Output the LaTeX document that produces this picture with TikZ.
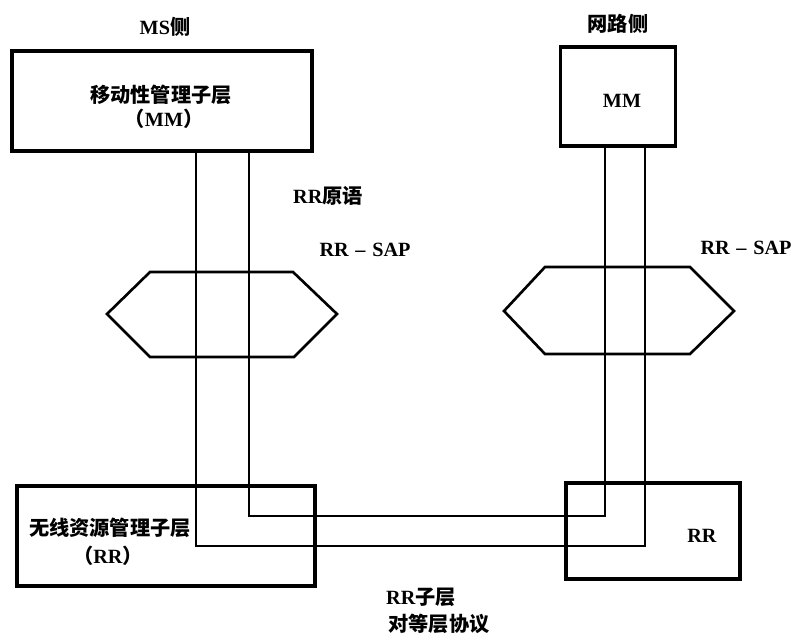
\documentclass[tikz,border=0pt]{standalone}
\usepackage{fontspec}
\setmainfont{Liberation Serif}
\newfontfamily\cjk{Noto Sans CJK SC}
\newcommand{\zh}[1]{{\cjk #1}}

\begin{document}
\begin{tikzpicture}[x=0.02cm,y=-0.02cm,line join=miter,
    box/.style={draw,line width=1.8pt,inner sep=0pt},
    link/.style={line width=1pt},
    sap/.style={line width=1.5pt},
    lbl/.style={font=\bfseries\fontsize{11.5}{13}\selectfont,inner sep=0pt}]
  \useasboundingbox (0,0) rectangle (796,637);
  % layer boxes
  \node[box,minimum width=6cm,minimum height=2cm] (msmm) at (162,101) {};
  \node[box,minimum width=2.3cm,minimum height=1.98cm] (netmm) at (618,96.5) {};
  \node[box,minimum width=5.96cm,minimum height=2cm] (msrr) at (166,536) {};
  \node[box,minimum width=3.48cm,minimum height=1.92cm] (netrr) at (653,531) {};
  % service access points
  \draw[sap] (107,314) -- (150,272) -- (293,272) -- (337,314) -- (294,357) -- (150,357) -- cycle;
  \draw[sap] (504,311) -- (545,267) -- (690,267) -- (734,311) -- (690,354) -- (545,354) -- cycle;
  % primitives and peer protocol
  \coordinate (inA) at (249,516);
  \coordinate (inB) at (605,516);
  \coordinate (outA) at (196,546);
  \coordinate (outB) at (645,546);
  \draw[link] (msmm.south -| inA) -- (inA) -- (inB) -- (netmm.south -| inB);
  \draw[link] (msmm.south -| outA) -- (outA) -- (outB) -- (netmm.south -| outB);
  % labels
  \node[lbl] (ms) at (165,27) {MS\zh{侧}};
  \node[lbl] (net) at (618,24) {\zh{网路侧}};
  \node[lbl] (mmname) at (161,95) {\zh{移动性管理子层}};
  \node[lbl] (mmabbr) at (164,119) {\zh{（}MM\zh{）}};
  \node[lbl] (netmmtxt) at (622,101) {MM};
  \node[lbl] (prim) at (328,196) {RR\zh{原语}};
  \node[lbl] (sapl) at (365,250) {RR\,\,–\,\,SAP};
  \node[lbl] (sapr) at (746,248) {RR\,\,–\,\,SAP};
  \node[lbl] (rrname) at (110,528) {\zh{无线资源管理子层}};
  \node[lbl] (rrabbr) at (108,556) {\zh{（}RR\zh{）}};
  \node[lbl] (netrrtxt) at (702,536) {RR};
  \node[lbl] (peer1) at (421,597) {RR\zh{子层}};
  \node[lbl] (peer2) at (439,624) {\zh{对等层协议}};
\end{tikzpicture}
\end{document}
